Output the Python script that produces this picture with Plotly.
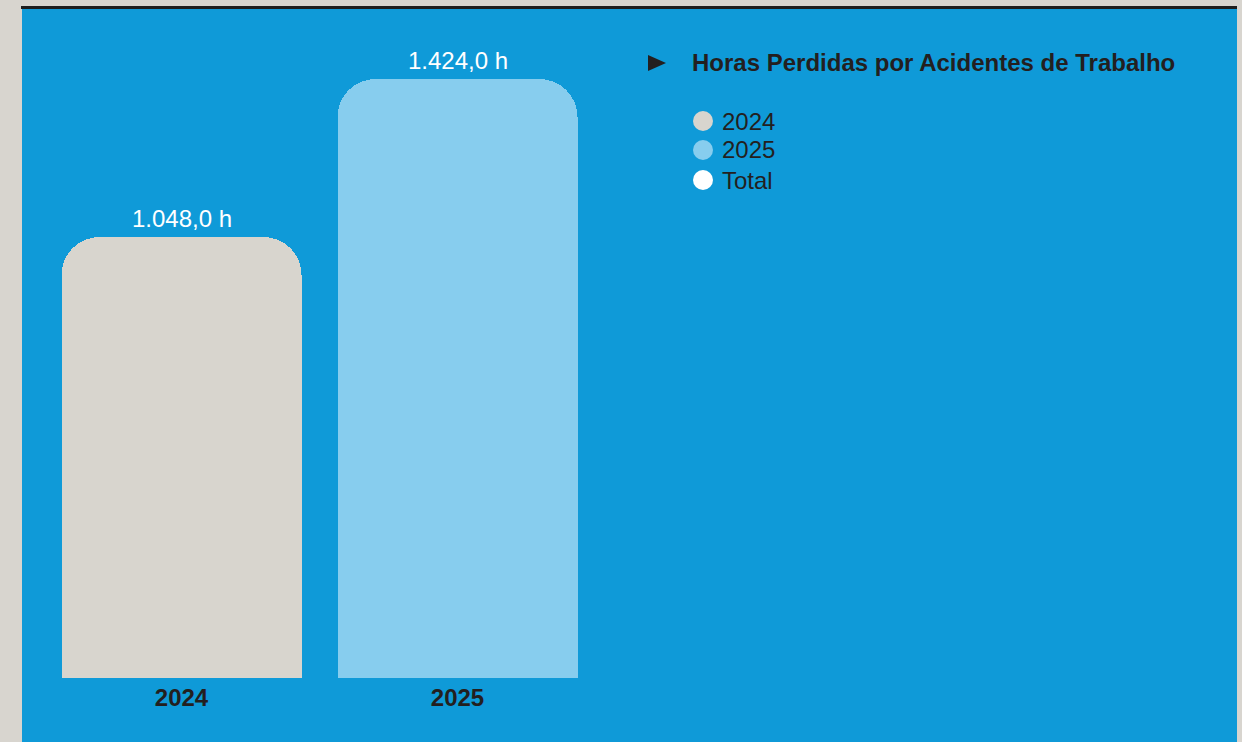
import plotly.graph_objects as go

# ---- data ----
categories = ["2024", "2025"]
values = [1048.0, 1424.0]
bar_colors = ["#d8d5ce", "#87cdee"]
legend_labels = ["2024", "2025", "Total"]
legend_colors = ["#d8d5ce", "#87cdee", "#ffffff"]
chart_title = "Horas Perdidas por Acidentes de Trabalho"

W, H = 1242, 742
BLUE = "#0f9ad8"
GRAY = "#d8d5cf"
DARK = "#231f20"
FONT = "Liberation Sans, Arial, Helvetica, sans-serif"
FS = 24


def px(x):
    return x / W


def py(y):
    return 1 - y / H


def fmt(v):
    s = f"{v:,.1f}"
    return s.replace(",", "X").replace(".", ",").replace("X", ".") + " h"


xs = list(range(len(categories)))

fig = go.Figure()
fig.add_trace(go.Bar(
    x=xs, y=values, width=0.866,
    marker=dict(color=bar_colors, line=dict(width=0), cornerradius=38),
    showlegend=False, hoverinfo="skip",
))

annotations = []
for i, v in zip(xs, values):
    annotations.append(dict(
        x=i, y=v, xref="x", yref="y", text=fmt(v), showarrow=False,
        yanchor="middle", yshift=19,
        font=dict(family=FONT, size=FS, color="#ffffff"),
    ))

# title of legend block
annotations.append(dict(
    x=px(690), y=py(63), xref="paper", yref="paper", text="<b>" + chart_title + "</b>",
    showarrow=False, xanchor="left", yanchor="middle",
    font=dict(family=FONT, size=FS, color=DARK),
))

shapes = [
    # blue panel
    dict(type="rect", xref="paper", yref="paper", x0=px(22), x1=px(1237), y0=0, y1=py(7),
         fillcolor=BLUE, line=dict(width=0), layer="below"),
    # top dark rule
    dict(type="rect", xref="paper", yref="paper", x0=px(21), x1=px(1237), y0=py(9), y1=py(6),
         fillcolor="#1e1e1e", line=dict(width=0), layer="below"),
    # triangle marker
    dict(type="path", xref="paper", yref="paper",
         path=f"M {px(648)} {py(55)} L {px(666)} {py(63)} L {px(648)} {py(71)} Z",
         fillcolor=DARK, line=dict(width=0)),
]

legend_y = [121, 150, 180]
for lab, col, yy in zip(legend_labels, legend_colors, legend_y):
    shapes.append(dict(type="circle", xref="paper", yref="paper",
                       x0=px(693), x1=px(713), y0=py(yy + 10), y1=py(yy - 10),
                       fillcolor=col, line=dict(width=0)))
    annotations.append(dict(
        x=px(720), y=py(yy), xref="paper", yref="paper", text=lab, showarrow=False,
        xanchor="left", yanchor="middle",
        font=dict(family=FONT, size=FS, color=DARK),
    ))

scale = 0.4204  # px per hour
fig.update_layout(
    width=W, height=H,
    margin=dict(l=0, r=0, t=0, b=0),
    paper_bgcolor=GRAY, plot_bgcolor="rgba(0,0,0,0)",
    xaxis=dict(domain=[px(43.5), px(595.5)], range=[-0.5, 1.5],
               tickvals=xs, ticktext=["<b>" + c + "</b>" for c in categories],
               showgrid=False, zeroline=False, showline=False, ticks="",
               ticklabelstandoff=3,
               tickfont=dict(family=FONT, size=FS, color=DARK)),
    yaxis=dict(domain=[1 - 678 / H, 1 - 40 / H], range=[0, 638 / scale],
               visible=False, showgrid=False, zeroline=False),
    shapes=shapes, annotations=annotations, showlegend=False,
    bargap=0,
)

fig.write_html(
    "out.html",
    config={"displayModeBar": False},
    post_script="document.body.style.margin='0';document.body.style.background='" + GRAY + "';",
)
